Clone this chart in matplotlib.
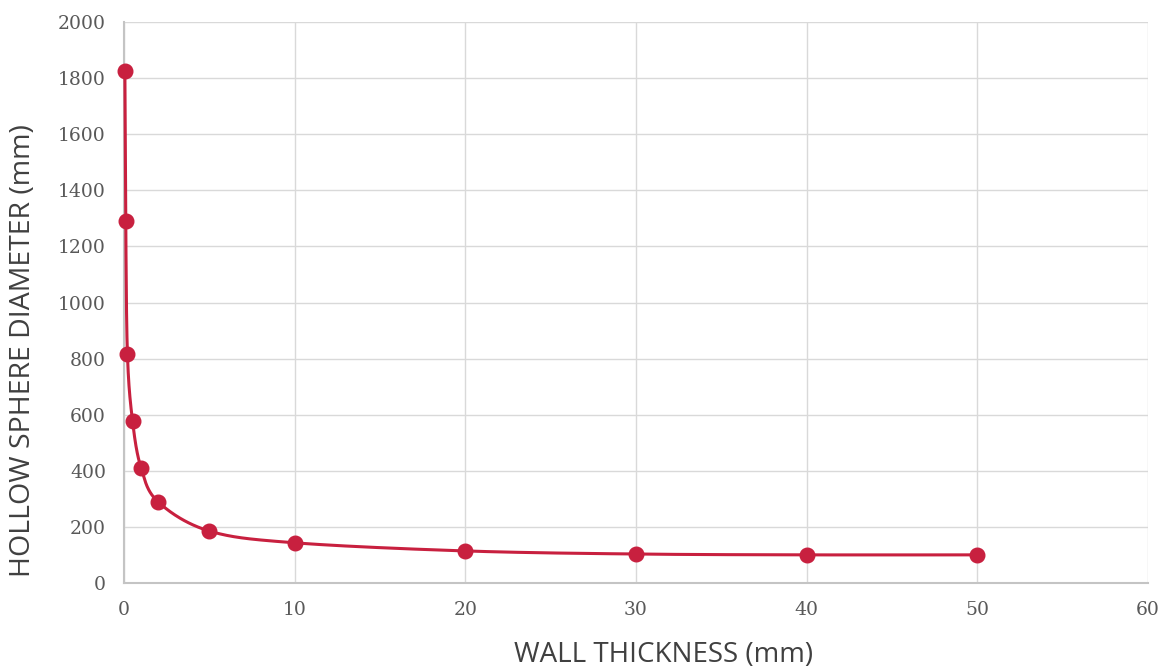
import matplotlib
matplotlib.use("Agg")
import matplotlib.pyplot as plt
import numpy as np

# values
wall_thickness = [0.05, 0.1, 0.2, 0.5, 1, 2, 5, 10, 20, 30, 40, 50]
sphere_diameter = [1825, 1290, 816, 577, 410, 289, 185, 143, 114, 103, 100, 100]

LINE_COLOR = "#c8203f"
GRID = "#d9d9d9"
TICK_INK = "#595959"
LABEL_INK = "#404040"


def smooth_path(xs, ys, steps=40):
    # Catmull-Rom style curve through the points (like an office "smoothed line")
    xs = np.asarray(xs, float)
    ys = np.asarray(ys, float)
    px = np.concatenate([[xs[0]], xs, [xs[-1]]])
    py = np.concatenate([[ys[0]], ys, [ys[-1]]])
    out_x, out_y = [], []
    t = np.linspace(0, 1, steps)
    for i in range(1, len(px) - 2):
        p0, p1, p2, p3 = px[i - 1], px[i], px[i + 1], px[i + 2]
        q0, q1, q2, q3 = py[i - 1], py[i], py[i + 1], py[i + 2]
        tension = 1 / 6
        c1x, c1y = p1 + (p2 - p0) * tension, q1 + (q2 - q0) * tension
        c2x, c2y = p2 - (p3 - p1) * tension, q2 - (q3 - q1) * tension
        bx = (1 - t) ** 3 * p1 + 3 * (1 - t) ** 2 * t * c1x + 3 * (1 - t) * t ** 2 * c2x + t ** 3 * p2
        by = (1 - t) ** 3 * q1 + 3 * (1 - t) ** 2 * t * c1y + 3 * (1 - t) * t ** 2 * c2y + t ** 3 * q2
        out_x.extend(bx)
        out_y.extend(by)
    return out_x, out_y


fig = plt.figure(figsize=(11.7, 6.7), dpi=100, facecolor="white")
ax = fig.add_axes([0.106, 0.130, 0.875, 0.837])

cx, cy = smooth_path(wall_thickness, sphere_diameter)
ax.plot(cx, cy, color=LINE_COLOR, linewidth=2.2, zorder=3, solid_capstyle="round", clip_on=False)
ax.plot(wall_thickness, sphere_diameter, linestyle="none", marker="o",
        markersize=10.5, color=LINE_COLOR, zorder=4, clip_on=False)

ax.set_xlim(0, 60)
ax.set_ylim(0, 2000)
ax.set_xticks(np.arange(0, 61, 10))
ax.set_yticks(np.arange(0, 2001, 200))

ax.grid(True, color=GRID, linewidth=1.0, zorder=0)
ax.set_axisbelow(True)
for side in ["top", "right"]:
    ax.spines[side].set_visible(False)
for side in ["left", "bottom"]:
    ax.spines[side].set_color("#c4c4c4")
    ax.spines[side].set_linewidth(1.5)
    ax.spines[side].set_zorder(1)
ax.tick_params(length=0, pad=13, colors=TICK_INK, labelsize=13.5)
for lab in ax.get_xticklabels() + ax.get_yticklabels():
    lab.set_family("DejaVu Serif")

ax.set_xlabel("WALL THICKNESS (mm)", fontsize=20, color=LABEL_INK, family="Open Sans", va="center")
ax.set_ylabel("HOLLOW SPHERE DIAMETER (mm)", fontsize=20.5, color=LABEL_INK, family="Open Sans", va="center")
ax.xaxis.set_label_coords(0.527, -0.128)
ax.yaxis.set_label_coords(-0.099, 0.415)

fig.savefig("out.png", dpi=100, facecolor="white")
plt.close(fig)
